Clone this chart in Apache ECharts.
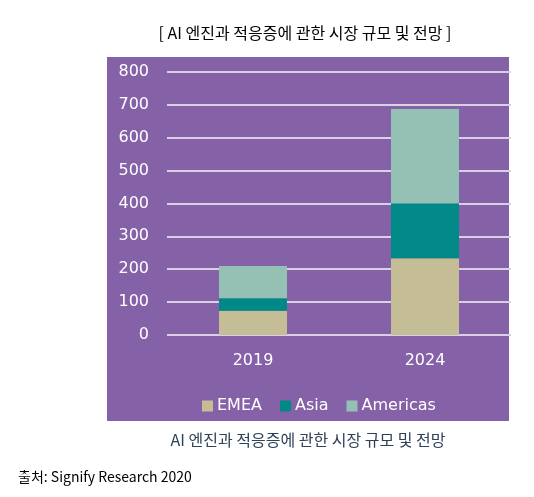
<!DOCTYPE html>
<html><head><meta charset="utf-8">
<script src="https://cdn.jsdelivr.net/npm/echarts@6/dist/echarts.min.js"></script>
<style>html,body{margin:0;padding:0;background:#fff}#c{width:534px;height:497px}</style>
</head><body><div id="c"></div>
<script>
const categories = ['2019', '2024'];
const emea = [74, 233];
const asia = [38, 167];
const americas = [98, 287];
const yTicks = [0, 100, 200, 300, 400, 500, 600, 700, 800];
const seriesNames = ['EMEA', 'Asia', 'Americas'];
const colors = ['#C5BD95', '#008987', '#95C1B5'];
const titleText = '[ AI 엔진과 적응증에 관한 시장 규모 및 전망 ]';
const captionText = 'AI 엔진과 적응증에 관한 시장 규모 및 전망';
const sourceText = '출처: Signify Research 2020';

const chart = echarts.init(document.getElementById('c'), null, {renderer: 'canvas'});
const lbl = {color: '#fff', fontFamily: 'DejaVu Sans', fontSize: 16};
chart.setOption({
  animation: false,
  backgroundColor: '#fff',
  graphic: [
    {type: 'rect', z: -100, shape: {x: 107, y: 57, width: 402, height: 364}, style: {fill: '#8561A8'}},
    {type: 'text', x: 305, y: 33, style: {text: titleText, fill: '#000', font: '16px "Noto Sans CJK KR"', textAlign: 'center', textVerticalAlign: 'middle'}},
    {type: 'text', x: 308, y: 440, style: {text: captionText, fill: '#2E4257', font: '16px "Noto Sans CJK KR"', textAlign: 'center', textVerticalAlign: 'middle'}},
    {type: 'text', x: 18, y: 477, style: {text: sourceText, fill: '#000', font: '14px "Noto Sans CJK KR"', textVerticalAlign: 'middle'}}
  ],
  grid: {left: 167, right: 23, top: 71.7, height: 263.3},
  legend: {
    data: seriesNames, left: 197, top: 393, itemWidth: 11, itemHeight: 11, itemGap: 18,
    icon: 'rect', textStyle: {color: '#fff', fontFamily: 'DejaVu Sans', fontSize: 16, padding: [0, 0, 0, -1]}
  },
  xAxis: {
    type: 'category', data: categories,
    axisLine: {show: false}, axisTick: {show: false},
    axisLabel: Object.assign({margin: 18}, lbl)
  },
  yAxis: {
    type: 'value', min: yTicks[0], max: yTicks[yTicks.length - 1], interval: 100,
    axisLine: {show: false}, axisTick: {show: false},
    axisLabel: Object.assign({margin: 18}, lbl),
    splitLine: {lineStyle: {color: '#D9D0E6', width: 2}}
  },
  series: [
    {name: seriesNames[0], type: 'bar', stack: 's', data: emea, barWidth: 68, itemStyle: {color: colors[0]}},
    {name: seriesNames[1], type: 'bar', stack: 's', data: asia, barWidth: 68, itemStyle: {color: colors[1]}},
    {name: seriesNames[2], type: 'bar', stack: 's', data: americas, barWidth: 68, itemStyle: {color: colors[2]}}
  ]
});
</script></body></html>
